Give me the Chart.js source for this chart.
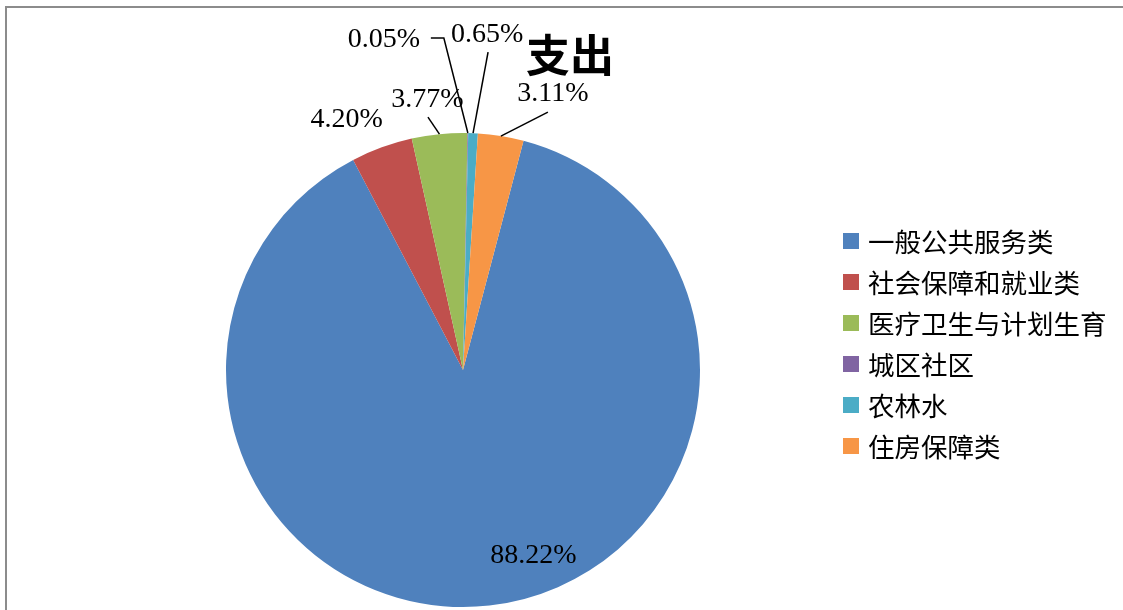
<!DOCTYPE html>
<html>
<head>
<meta charset="utf-8">
<script src="https://cdn.jsdelivr.net/npm/chart.js@4"></script>
<style>
html,body{margin:0;padding:0;background:#fff;}
#wrap{position:relative;width:1123px;height:610px;overflow:hidden;}
canvas{position:absolute;left:0;top:0;}
</style>
</head>
<body>
<div id="wrap"><canvas id="c" width="1123" height="610"></canvas></div>
<script>
// ---- data ----
const categories = ['一般公共服务类','社会保障和就业类','医疗卫生与计划生育','城区社区','农林水','住房保障类'];
const values = [88.22, 4.20, 3.77, 0.05, 0.65, 3.11];
const chartTitle = '支出';

// ---- styles ----
const colors = ['#4F81BD','#C0504D','#9BBB59','#8064A2','#4BACC6','#F79646'];
// label placement relative to each slice's outer-mid point; leader = polyline points relative to that point
const labelStyle = [
  {dx: 44, dy: -50, leader: null},
  {dx: -35, dy: -28, leader: null},
  {dx: -12, dy: -35, leader: [[-11.5,-17]]},
  {dx: -84, dy: -93, leader: [[-24,-95],[-37,-95]]},
  {dx: 14, dy: -99, leader: [[15,-81]]},
  {dx: 52, dy: -42, leader: [[47,-24]]}
];

const decor = {
  id: 'decor',
  beforeDraw(chart) {
    const ctx = chart.ctx;
    ctx.save();
    ctx.fillStyle = '#fff';
    ctx.fillRect(0,0,chart.width,chart.height);
    ctx.fillStyle = '#8c8c8c';
    ctx.fillRect(5,6,chart.width,2);
    ctx.fillRect(5,6,2,chart.height);
    ctx.restore();
  },
  afterDraw(chart) {
    const ctx = chart.ctx;
    const meta = chart.getDatasetMeta(0);
    ctx.save();
    // title
    ctx.fillStyle = '#000';
    ctx.font = 'bold 44px "Noto Sans CJK SC"';
    ctx.textAlign = 'center';
    ctx.textBaseline = 'middle';
    ctx.fillText(chartTitle, 570, 55);
    // data labels
    ctx.font = '28px "Liberation Serif"';
    meta.data.forEach((arc, i) => {
      const p = arc.getProps(['x','y','startAngle','endAngle','outerRadius'], true);
      const mid = (p.startAngle + p.endAngle) / 2;
      const ox = p.x + Math.cos(mid) * p.outerRadius;
      const oy = p.y + Math.sin(mid) * p.outerRadius;
      const s = labelStyle[i];
      if (s.leader) {
        ctx.strokeStyle = '#000';
        ctx.lineWidth = 1.5;
        ctx.beginPath();
        ctx.moveTo(ox, oy);
        s.leader.forEach(q => ctx.lineTo(ox + q[0], oy + q[1]));
        ctx.stroke();
      }
      ctx.fillStyle = '#000';
      ctx.fillText(values[i].toFixed(2) + '%', ox + s.dx, oy + s.dy);
    });
    // legend
    ctx.textAlign = 'left';
    ctx.font = '26.5px "Noto Sans CJK SC"';
    categories.forEach((c, i) => {
      const y = 241 + i * 41;
      ctx.fillStyle = colors[i];
      ctx.fillRect(843, y - 8, 16, 16);
      ctx.fillStyle = '#000';
      ctx.fillText(c, 868, y + 1);
    });
    ctx.restore();
  }
};

new Chart(document.getElementById('c'), {
  type: 'pie',
  data: {
    labels: categories,
    datasets: [{
      data: values,
      backgroundColor: colors,
      borderWidth: 0
    }]
  },
  options: {
    responsive: false,
    animation: false,
    rotation: 14.8,
    layout: {padding: {left: 226, right: 423, top: 133, bottom: 3}},
    plugins: {legend: {display: false}, tooltip: {enabled: false}, title: {display: false}}
  },
  plugins: [decor]
});
</script>
</body>
</html>
